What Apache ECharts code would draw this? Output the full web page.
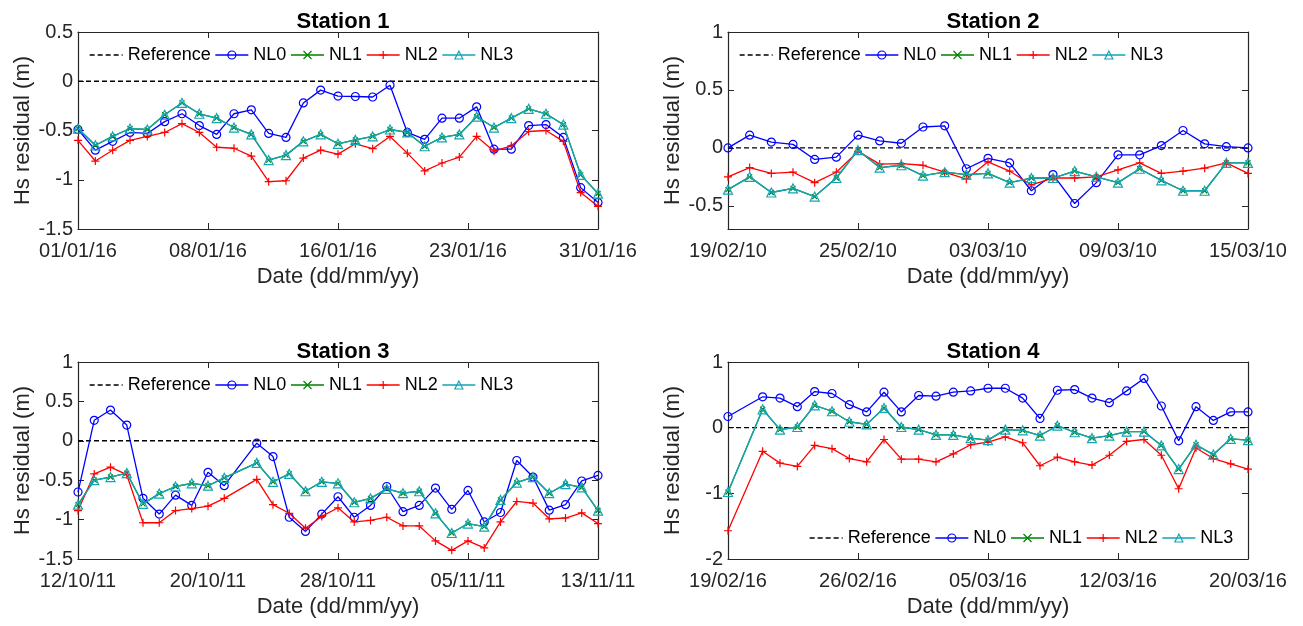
<!DOCTYPE html>
<html><head><meta charset="utf-8">
<script src="https://cdn.jsdelivr.net/npm/echarts@6/dist/echarts.min.js"></script>
<style>html,body{margin:0;padding:0;background:#fff}#c{width:1303px;height:626px}</style>
</head><body><div id="c"></div>
<script>
// ---------- Station 1 (01/01/16 - 31/01/16, daily) ----------
const s1TickLabels = ['01/01/16','08/01/16','16/01/16','23/01/16','31/01/16'];
const s1TickPos = [0, 7.5, 15, 22.5, 30];
const s1YTicks = [-1.5, -1, -0.5, 0, 0.5];
const s1NL0 = [-0.49,-0.70,-0.61,-0.52,-0.53,-0.41,-0.33,-0.45,-0.54,-0.33,-0.29,-0.53,-0.57,-0.22,-0.09,-0.15,-0.155,-0.16,-0.04,-0.52,-0.59,-0.375,-0.375,-0.26,-0.69,-0.69,-0.45,-0.44,-0.57,-1.08,-1.23];
const s1NL1 = [-0.48,-0.65,-0.56,-0.48,-0.49,-0.34,-0.22,-0.33,-0.375,-0.47,-0.54,-0.80,-0.75,-0.61,-0.54,-0.635,-0.595,-0.56,-0.49,-0.52,-0.66,-0.57,-0.54,-0.36,-0.47,-0.375,-0.28,-0.33,-0.44,-0.95,-1.14];
const s1NL2 = [-0.60,-0.81,-0.70,-0.60,-0.56,-0.52,-0.43,-0.52,-0.67,-0.68,-0.76,-1.02,-1.01,-0.78,-0.70,-0.74,-0.635,-0.685,-0.56,-0.73,-0.91,-0.83,-0.77,-0.56,-0.71,-0.655,-0.51,-0.50,-0.61,-1.13,-1.27];
const s1NL3 = [-0.48,-0.65,-0.56,-0.48,-0.49,-0.34,-0.22,-0.33,-0.375,-0.47,-0.54,-0.80,-0.75,-0.61,-0.54,-0.635,-0.595,-0.56,-0.49,-0.52,-0.66,-0.57,-0.54,-0.36,-0.47,-0.375,-0.28,-0.33,-0.44,-0.95,-1.14];

// ---------- Station 2 (19/02/10 - 15/03/10, daily) ----------
const s2TickLabels = ['19/02/10','25/02/10','03/03/10','09/03/10','15/03/10'];
const s2TickPos = [0, 6, 12, 18, 24];
const s2YTicks = [-0.5, 0, 0.5, 1];
const s2NL0 = [0.00,0.11,0.05,0.03,-0.10,-0.08,0.11,0.06,0.04,0.18,0.19,-0.18,-0.09,-0.13,-0.37,-0.23,-0.48,-0.30,-0.06,-0.06,0.02,0.15,0.035,0.01,0.00];
const s2NL1 = [-0.36,-0.25,-0.385,-0.35,-0.42,-0.26,-0.02,-0.17,-0.15,-0.24,-0.21,-0.23,-0.22,-0.30,-0.26,-0.26,-0.20,-0.25,-0.30,-0.18,-0.28,-0.37,-0.37,-0.13,-0.13];
const s2NL2 = [-0.25,-0.17,-0.22,-0.21,-0.30,-0.21,-0.03,-0.14,-0.135,-0.15,-0.21,-0.27,-0.12,-0.20,-0.32,-0.26,-0.26,-0.25,-0.19,-0.13,-0.22,-0.20,-0.175,-0.13,-0.22];
const s2NL3 = [-0.36,-0.25,-0.385,-0.35,-0.42,-0.26,-0.02,-0.17,-0.15,-0.24,-0.21,-0.23,-0.22,-0.30,-0.26,-0.26,-0.20,-0.25,-0.30,-0.18,-0.28,-0.37,-0.37,-0.13,-0.13];

// ---------- Station 3 (12/10/11 - 13/11/11, daily, one missing day) ----------
const s3TickLabels = ['12/10/11','20/10/11','28/10/11','05/11/11','13/11/11'];
const s3TickPos = [0, 8, 16, 24, 32];
const s3YTicks = [-1.5, -1, -0.5, 0, 0.5, 1];
const s3NL0 = [-0.65,0.26,0.39,0.20,-0.73,-0.93,-0.69,-0.82,-0.40,-0.57,null,-0.03,-0.20,-0.97,-1.15,-0.93,-0.71,-0.97,-0.82,-0.58,-0.90,-0.82,-0.60,-0.87,-0.63,-1.03,-0.91,-0.25,-0.46,-0.88,-0.81,-0.51,-0.44];
const s3NL1 = [-0.81,-0.50,-0.46,-0.41,-0.80,-0.67,-0.58,-0.54,-0.57,-0.47,null,-0.28,-0.52,-0.42,-0.64,-0.52,-0.54,-0.78,-0.73,-0.61,-0.665,-0.64,-0.92,-1.17,-1.05,-1.09,-0.75,-0.53,-0.46,-0.665,-0.55,-0.59,-0.885];
const s3NL2 = [-0.885,-0.42,-0.335,-0.43,-1.04,-1.04,-0.885,-0.86,-0.83,-0.73,null,-0.49,-0.81,-0.92,-1.11,-0.96,-0.85,-1.03,-1.01,-0.97,-1.08,-1.08,-1.27,-1.39,-1.27,-1.36,-1.03,-0.77,-0.79,-0.99,-0.98,-0.915,-1.05];
const s3NL3 = [-0.81,-0.50,-0.46,-0.41,-0.80,-0.67,-0.58,-0.54,-0.57,-0.47,null,-0.28,-0.52,-0.42,-0.64,-0.52,-0.54,-0.78,-0.73,-0.61,-0.665,-0.64,-0.92,-1.17,-1.05,-1.09,-0.75,-0.53,-0.46,-0.665,-0.55,-0.59,-0.885];

// ---------- Station 4 (19/02/16 - 20/03/16, daily, one missing day) ----------
const s4TickLabels = ['19/02/16','26/02/16','05/03/16','12/03/16','20/03/16'];
const s4TickPos = [0, 7.5, 15, 22.5, 30];
const s4YTicks = [-2, -1, 0, 1];
const s4NL0 = [0.17,null,0.47,0.45,0.32,0.55,0.52,0.35,0.24,0.54,0.24,0.49,0.48,0.54,0.56,0.60,0.60,0.45,0.14,0.57,0.58,0.45,0.38,0.56,0.75,0.33,-0.20,0.32,0.11,0.24,0.24];
const s4NL1 = [-0.98,null,0.28,-0.03,0.01,0.34,0.25,0.09,0.05,0.30,0.01,-0.03,-0.11,-0.11,-0.16,-0.19,-0.03,-0.04,-0.12,0.03,-0.07,-0.16,-0.12,-0.06,-0.06,-0.27,-0.63,-0.26,-0.41,-0.17,-0.19];
const s4NL2 = [-1.57,null,-0.36,-0.54,-0.59,-0.27,-0.32,-0.47,-0.52,-0.18,-0.48,-0.48,-0.52,-0.40,-0.26,-0.22,-0.14,-0.23,-0.58,-0.45,-0.52,-0.57,-0.42,-0.21,-0.18,-0.42,-0.93,-0.31,-0.47,-0.55,-0.63];
const s4NL3 = [-0.98,null,0.28,-0.03,0.01,0.34,0.25,0.09,0.05,0.30,0.01,-0.03,-0.11,-0.11,-0.16,-0.19,-0.03,-0.04,-0.12,0.03,-0.07,-0.16,-0.12,-0.06,-0.06,-0.27,-0.63,-0.26,-0.41,-0.17,-0.19];

const seriesNames = ['Reference','NL0','NL1','NL2','NL3'];
const titles = ['Station 1','Station 2','Station 3','Station 4'];

const FONT = 'Liberation Sans, Arial, Helvetica, sans-serif';
const AX = '#262626';
const COL = {NL0:'#0000FF', NL1:'#008000', NL2:'#FF0000', NL3:'#12A5B5'};
const SYM = {
  NL0: {symbol:'circle', size:8, fill:'transparent'},
  NL1: {symbol:'path://M0,0L10,10M10,0L0,10', size:5, fill:'#008000'},
  NL2: {symbol:'path://M5,0L5,10M0,5L10,5', size:8, fill:'#FF0000'},
  NL3: {symbol:'triangle', size:9, fill:'transparent'}
};

const panels = [
  {title:titles[0], left:78,  top:32,  ymin:-1.5, ymax:0.5, yTicks:s1YTicks, tickPos:s1TickPos, tickLabels:s1TickLabels, data:{NL0:s1NL0,NL1:s1NL1,NL2:s1NL2,NL3:s1NL3}, legendBottom:false},
  {title:titles[1], left:728, top:32,  ymin:-0.7, ymax:1,   yTicks:s2YTicks, tickPos:s2TickPos, tickLabels:s2TickLabels, data:{NL0:s2NL0,NL1:s2NL1,NL2:s2NL2,NL3:s2NL3}, legendBottom:false},
  {title:titles[2], left:78,  top:362, ymin:-1.5, ymax:1,   yTicks:s3YTicks, tickPos:s3TickPos, tickLabels:s3TickLabels, data:{NL0:s3NL0,NL1:s3NL1,NL2:s3NL2,NL3:s3NL3}, legendBottom:false},
  {title:titles[3], left:728, top:362, ymin:-2,   ymax:1,   yTicks:s4YTicks, tickPos:s4TickPos, tickLabels:s4TickLabels, data:{NL0:s4NL0,NL1:s4NL1,NL2:s4NL2,NL3:s4NL3}, legendBottom:true}
];
const GW = 520, GH = 197;

const option = {animation:false, backgroundColor:'#fff', grid:[], xAxis:[], yAxis:[], series:[], legend:[], title:[]};

panels.forEach((p, i) => {
  const n = p.data.NL0.length;
  option.grid.push({left:p.left, top:p.top, width:GW, height:GH, containLabel:false});
  option.title.push({text:p.title, left:p.left + GW/2, top:p.top - 26, textAlign:'center',
    textStyle:{fontSize:22, fontWeight:'bold', color:'#000', fontFamily:FONT}});
  const axLine = {show:true, onZero:false, lineStyle:{color:AX, width:1.2}};
  const tickPos = p.tickPos, tickLabels = p.tickLabels;
  option.xAxis.push({
    gridIndex:i, type:'value', min:0, max:n-1, position:'bottom',
    axisLine:axLine, splitLine:{show:false},
    axisTick:{show:true, inside:true, length:6, customValues:tickPos, lineStyle:{color:AX}},
    axisLabel:{show:true, customValues:tickPos, margin:12, fontSize:20, color:AX, fontFamily:FONT,
      formatter:v => { const k = tickPos.findIndex(t => Math.abs(t - v) < 1e-6); return k >= 0 ? tickLabels[k] : ''; }},
    name:'Date (dd/mm/yy)', nameLocation:'middle', nameGap:37,
    nameTextStyle:{fontSize:22, color:AX, fontFamily:FONT}
  });
  option.xAxis.push({
    gridIndex:i, type:'value', min:0, max:n-1, position:'top',
    axisLine:axLine, splitLine:{show:false},
    axisTick:{show:true, inside:true, length:6, customValues:tickPos, lineStyle:{color:AX}},
    axisLabel:{show:false}
  });
  option.yAxis.push({
    gridIndex:i, type:'value', min:p.ymin, max:p.ymax, position:'left',
    axisLine:axLine, splitLine:{show:false},
    axisTick:{show:true, inside:true, length:6, customValues:p.yTicks, lineStyle:{color:AX}},
    axisLabel:{show:true, customValues:p.yTicks, margin:5, fontSize:20, color:AX, fontFamily:FONT,
      formatter:v => String(Math.round(v*10)/10)},
    name:'Hs residual (m)', nameLocation:'middle', nameGap:44, nameRotate:90,
    nameTextStyle:{fontSize:22, color:AX, fontFamily:FONT}
  });
  option.yAxis.push({
    gridIndex:i, type:'value', min:p.ymin, max:p.ymax, position:'right',
    axisLine:axLine, splitLine:{show:false},
    axisTick:{show:true, inside:true, length:6, customValues:p.yTicks, lineStyle:{color:AX}},
    axisLabel:{show:false}
  });
  const xi = 2*i, yi = 2*i;
  option.series.push({
    type:'line', name:'Reference', xAxisIndex:xi, yAxisIndex:yi,
    data:[[0,0],[n-1,0]], symbol:'none', silent:true,
    lineStyle:{color:'#000', width:1.4, type:[5,3]},
    itemStyle:{color:'transparent', borderColor:'transparent', borderWidth:0},
    emphasis:{disabled:true}, z:2
  });
  ['NL0','NL1','NL2','NL3'].forEach((nm, k) => {
    const s = SYM[nm];
    option.series.push({
      type:'line', name:nm, xAxisIndex:xi, yAxisIndex:yi,
      data:p.data[nm].map((v, d) => [d, v]),
      connectNulls:true, showSymbol:true, symbol:s.symbol, symbolSize:s.size,
      lineStyle:{color:COL[nm], width:1.3},
      itemStyle:{color:s.fill, borderColor:COL[nm], borderWidth:1.2},
      emphasis:{disabled:true}, silent:true, z:3+k
    });
  });
  const lg = {
    data:seriesNames, orient:'horizontal', padding:0, itemWidth:33, itemHeight:10, itemGap:4,
    selectedMode:false, textStyle:{fontSize:18, color:'#000', fontFamily:FONT},
    lineStyle:{width:1.3}, itemStyle:{borderWidth:1.2}
  };
  if (p.legendBottom) { lg.left = p.left + 81; lg.top = p.top + 167; }
  else { lg.left = p.left + 11; lg.top = p.top + 14; }
  option.legend.push(lg);
});

const chart = echarts.init(document.getElementById('c'), null, {renderer:'canvas'});
chart.setOption(option);
</script>
</body></html>
